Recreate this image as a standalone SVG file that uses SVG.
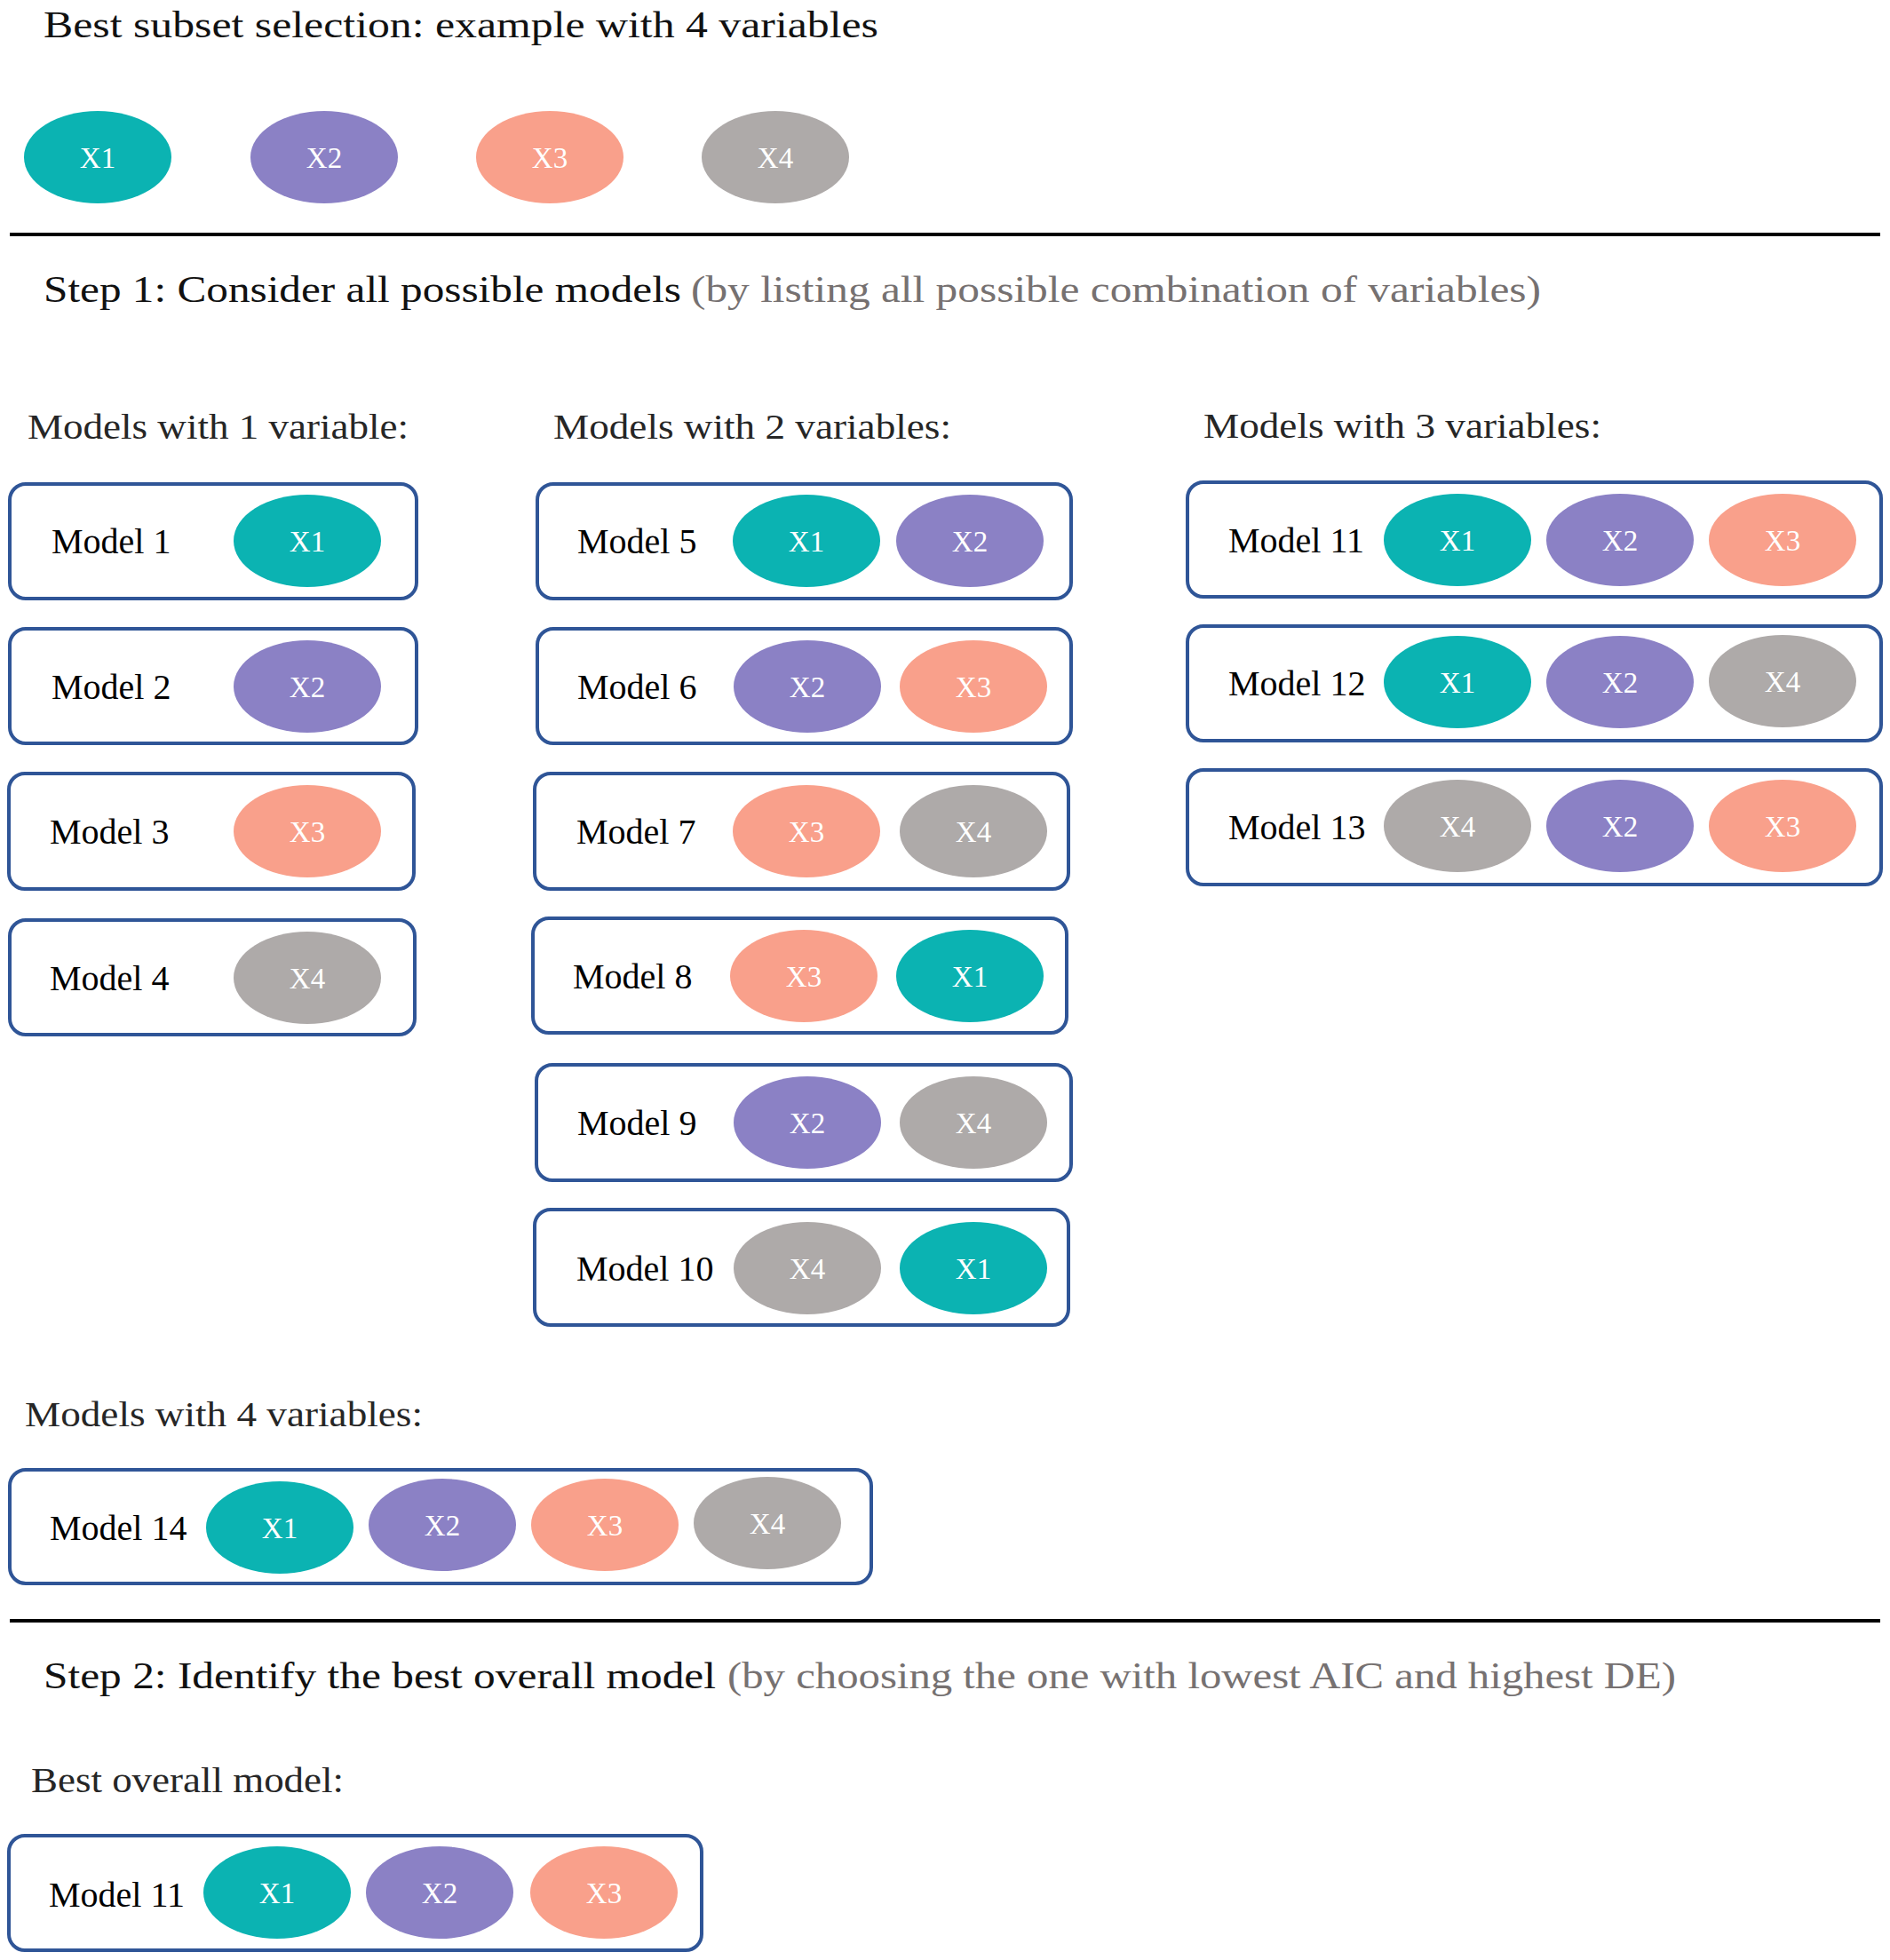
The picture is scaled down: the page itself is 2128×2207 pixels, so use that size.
<svg xmlns="http://www.w3.org/2000/svg" width="2128" height="2207" viewBox="0 0 2128 2207">
<style>
.bg{fill:#ffffff}
.hd{font-family:"Liberation Serif","DejaVu Serif",serif;font-size:43px;fill:#111111}
.gr{font-family:"Liberation Serif","DejaVu Serif",serif;font-size:43px;fill:#767171}
.sub{font-family:"Liberation Serif","DejaVu Serif",serif;font-size:41px;fill:#262626}
.box{fill:#ffffff;stroke:#2f5597;stroke-width:4}
.lbl{font-family:"Liberation Serif","DejaVu Serif",serif;font-size:40px;fill:#000000}
.xv{font-family:"Liberation Serif","DejaVu Serif",serif;font-size:33px;fill:#ffffff;text-anchor:middle}
.x1{fill:#0bb3b2}
.x2{fill:#8b81c5}
.x3{fill:#f9a08b}
.x4{fill:#aeaaa9}
.rule{stroke:#000000;stroke-width:4}
</style>
<rect class="bg" x="0" y="0" width="2128" height="2207"/>

<g id="headings">
<text class="hd" x="49" y="42" textLength="940" lengthAdjust="spacingAndGlyphs">Best subset selection: example with 4 variables</text>
<text class="hd" x="49" y="340" textLength="718" lengthAdjust="spacingAndGlyphs">Step 1: Consider all possible models</text>
<text class="gr" x="778" y="340" textLength="957" lengthAdjust="spacingAndGlyphs">(by listing all possible combination of variables)</text>
<text class="sub" x="31" y="494" textLength="429" lengthAdjust="spacingAndGlyphs">Models with 1 variable:</text>
<text class="sub" x="623" y="494" textLength="448" lengthAdjust="spacingAndGlyphs">Models with 2 variables:</text>
<text class="sub" x="1355" y="493" textLength="448" lengthAdjust="spacingAndGlyphs">Models with 3 variables:</text>
<text class="sub" x="28" y="1606" textLength="448" lengthAdjust="spacingAndGlyphs">Models with 4 variables:</text>
<text class="hd" x="49" y="1901" textLength="757" lengthAdjust="spacingAndGlyphs">Step 2: Identify the best overall model</text>
<text class="gr" x="819" y="1901" textLength="1068" lengthAdjust="spacingAndGlyphs">(by choosing the one with lowest AIC and highest DE)</text>
<text class="sub" x="35" y="2018" textLength="352" lengthAdjust="spacingAndGlyphs">Best overall model:</text>
</g>

<g id="rules">
<line class="rule" x1="11" y1="264" x2="2117" y2="264"/>
<line class="rule" x1="11" y1="1825" x2="2117" y2="1825"/>
</g>

<g id="vars">
<g id="var-x1"><ellipse class="x1" cx="110" cy="177" rx="83" ry="52"/><text class="xv" x="110" y="189">X1</text></g>
<g id="var-x2"><ellipse class="x2" cx="365" cy="177" rx="83" ry="52"/><text class="xv" x="365" y="189">X2</text></g>
<g id="var-x3"><ellipse class="x3" cx="619" cy="177" rx="83" ry="52"/><text class="xv" x="619" y="189">X3</text></g>
<g id="var-x4"><ellipse class="x4" cx="873" cy="177" rx="83" ry="52"/><text class="xv" x="873" y="189">X4</text></g>
</g>

<g id="connectors"></g>

<g id="model1"><rect class="box" x="11" y="545" width="458" height="129" rx="18"/><text class="lbl" x="58" y="623">Model 1</text>
<ellipse class="x1" cx="346" cy="609" rx="83" ry="52"/><text class="xv" x="346" y="621">X1</text></g>
<g id="model2"><rect class="box" x="11" y="708" width="458" height="129" rx="18"/><text class="lbl" x="58" y="787">Model 2</text>
<ellipse class="x2" cx="346" cy="773" rx="83" ry="52"/><text class="xv" x="346" y="785">X2</text></g>
<g id="model3"><rect class="box" x="10" y="871" width="456" height="130" rx="18"/><text class="lbl" x="56" y="950">Model 3</text>
<ellipse class="x3" cx="346" cy="936" rx="83" ry="52"/><text class="xv" x="346" y="948">X3</text></g>
<g id="model4"><rect class="box" x="11" y="1036" width="456" height="129" rx="18"/><text class="lbl" x="56" y="1115">Model 4</text>
<ellipse class="x4" cx="346" cy="1101" rx="83" ry="52"/><text class="xv" x="346" y="1113">X4</text></g>

<g id="model5"><rect class="box" x="605" y="545" width="601" height="129" rx="18"/><text class="lbl" x="650" y="623">Model 5</text>
<ellipse class="x1" cx="908" cy="609" rx="83" ry="52"/><text class="xv" x="908" y="621">X1</text>
<ellipse class="x2" cx="1092" cy="609" rx="83" ry="52"/><text class="xv" x="1092" y="621">X2</text></g>
<g id="model6"><rect class="box" x="605" y="708" width="601" height="129" rx="18"/><text class="lbl" x="650" y="787">Model 6</text>
<ellipse class="x2" cx="909" cy="773" rx="83" ry="52"/><text class="xv" x="909" y="785">X2</text>
<ellipse class="x3" cx="1096" cy="773" rx="83" ry="52"/><text class="xv" x="1096" y="785">X3</text></g>
<g id="model7"><rect class="box" x="602" y="871" width="601" height="130" rx="18"/><text class="lbl" x="649" y="950">Model 7</text>
<ellipse class="x3" cx="908" cy="936" rx="83" ry="52"/><text class="xv" x="908" y="948">X3</text>
<ellipse class="x4" cx="1096" cy="936" rx="83" ry="52"/><text class="xv" x="1096" y="948">X4</text></g>
<g id="model8"><rect class="box" x="600" y="1034" width="601" height="129" rx="18"/><text class="lbl" x="645" y="1113">Model 8</text>
<ellipse class="x3" cx="905" cy="1099" rx="83" ry="52"/><text class="xv" x="905" y="1111">X3</text>
<ellipse class="x1" cx="1092" cy="1099" rx="83" ry="52"/><text class="xv" x="1092" y="1111">X1</text></g>
<g id="model9"><rect class="box" x="604" y="1199" width="602" height="130" rx="18"/><text class="lbl" x="650" y="1278">Model 9</text>
<ellipse class="x2" cx="909" cy="1264" rx="83" ry="52"/><text class="xv" x="909" y="1276">X2</text>
<ellipse class="x4" cx="1096" cy="1264" rx="83" ry="52"/><text class="xv" x="1096" y="1276">X4</text></g>
<g id="model10"><rect class="box" x="602" y="1362" width="601" height="130" rx="18"/><text class="lbl" x="649" y="1442">Model 10</text>
<ellipse class="x4" cx="909" cy="1428" rx="83" ry="52"/><text class="xv" x="909" y="1440">X4</text>
<ellipse class="x1" cx="1096" cy="1428" rx="83" ry="52"/><text class="xv" x="1096" y="1440">X1</text></g>

<g id="model11"><rect class="box" x="1337" y="543" width="781" height="129" rx="18"/><text class="lbl" x="1383" y="622">Model 11</text>
<ellipse class="x1" cx="1641" cy="608" rx="83" ry="52"/><text class="xv" x="1641" y="620">X1</text>
<ellipse class="x2" cx="1824" cy="608" rx="83" ry="52"/><text class="xv" x="1824" y="620">X2</text>
<ellipse class="x3" cx="2007" cy="608" rx="83" ry="52"/><text class="xv" x="2007" y="620">X3</text></g>
<g id="model12"><rect class="box" x="1337" y="705" width="781" height="129" rx="18"/><text class="lbl" x="1383" y="783">Model 12</text>
<ellipse class="x1" cx="1641" cy="768" rx="83" ry="52"/><text class="xv" x="1641" y="780">X1</text>
<ellipse class="x2" cx="1824" cy="768" rx="83" ry="52"/><text class="xv" x="1824" y="780">X2</text>
<ellipse class="x4" cx="2007" cy="767" rx="83" ry="52"/><text class="xv" x="2007" y="779">X4</text></g>
<g id="model13"><rect class="box" x="1337" y="867" width="781" height="129" rx="18"/><text class="lbl" x="1383" y="945">Model 13</text>
<ellipse class="x4" cx="1641" cy="930" rx="83" ry="52"/><text class="xv" x="1641" y="942">X4</text>
<ellipse class="x2" cx="1824" cy="930" rx="83" ry="52"/><text class="xv" x="1824" y="942">X2</text>
<ellipse class="x3" cx="2007" cy="930" rx="83" ry="52"/><text class="xv" x="2007" y="942">X3</text></g>

<g id="model14"><rect class="box" x="11" y="1655" width="970" height="128" rx="18"/><text class="lbl" x="56" y="1734">Model 14</text>
<ellipse class="x1" cx="315" cy="1720" rx="83" ry="52"/><text class="xv" x="315" y="1732">X1</text>
<ellipse class="x2" cx="498" cy="1717" rx="83" ry="52"/><text class="xv" x="498" y="1729">X2</text>
<ellipse class="x3" cx="681" cy="1717" rx="83" ry="52"/><text class="xv" x="681" y="1729">X3</text>
<ellipse class="x4" cx="864" cy="1715" rx="83" ry="52"/><text class="xv" x="864" y="1727">X4</text></g>

<g id="best-model"><rect class="box" x="10" y="2067" width="780" height="129" rx="18"/><text class="lbl" x="55" y="2147">Model 11</text>
<ellipse class="x1" cx="312" cy="2131" rx="83" ry="52"/><text class="xv" x="312" y="2143">X1</text>
<ellipse class="x2" cx="495" cy="2131" rx="83" ry="52"/><text class="xv" x="495" y="2143">X2</text>
<ellipse class="x3" cx="680" cy="2131" rx="83" ry="52"/><text class="xv" x="680" y="2143">X3</text></g>
</svg>
